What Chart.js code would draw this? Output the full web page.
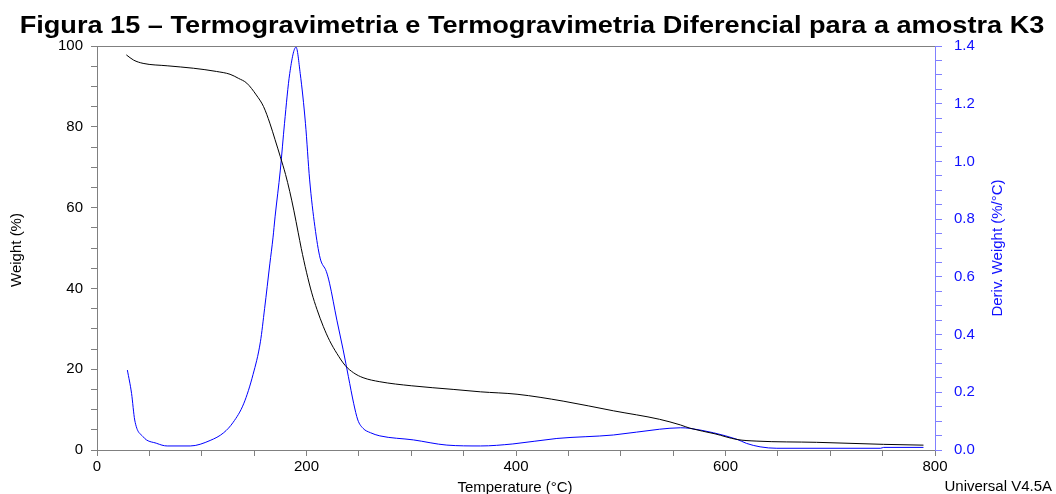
<!DOCTYPE html>
<html>
<head>
<meta charset="utf-8">
<script src="https://cdn.jsdelivr.net/npm/chart.js@4.4.0/dist/chart.umd.min.js"></script>
<style>
    body { margin: 0; background: white; }
</style>
</head>
<body>
<canvas id="grafico" width="1056" height="494"></canvas>
<script>
// curva TG (peso)
const tempPeso = [28, 35, 44, 67, 92, 114, 127, 135, 143, 152, 159, 165, 170, 175, 180, 184, 188, 192, 195, 200, 205, 210, 216, 222, 229, 237, 245, 254, 270, 300, 340, 366, 401, 445, 493, 537, 557, 566, 590, 611, 630, 687, 751, 789];
const peso = [97.8, 96.5, 95.7, 95.1, 94.5, 93.7, 93.0, 92.0, 90.8, 87.9, 85.0, 80.9, 76.8, 72.6, 68.2, 64.0, 59.2, 53.9, 49.9, 44.0, 38.9, 34.8, 30.6, 27.1, 23.9, 20.9, 19.1, 17.9, 16.9, 15.9, 15.0, 14.4, 13.8, 12.1, 9.7, 7.6, 6.2, 5.4, 4.0, 2.6, 2.2, 1.9, 1.4, 1.2];

// curva DTG (derivada)
const tempDeriv = [29, 33, 36, 44, 57, 67, 89, 108, 121, 130, 140, 149, 156, 160, 165, 168, 170, 175, 179, 184, 190, 194, 199, 203, 208, 213, 219, 222, 229, 235, 240, 245, 249, 254, 261, 270, 302, 334, 366, 397, 439, 493, 537, 557, 566, 611, 620, 633, 649, 748, 751, 789];
const deriv = [0.277, 0.196, 0.104, 0.046, 0.023, 0.014, 0.014, 0.033, 0.060, 0.096, 0.160, 0.262, 0.375, 0.49, 0.645, 0.735, 0.808, 0.970, 1.132, 1.305, 1.396, 1.305, 1.132, 0.936, 0.774, 0.665, 0.618, 0.578, 0.450, 0.347, 0.254, 0.162, 0.104, 0.075, 0.060, 0.049, 0.035, 0.017, 0.014, 0.021, 0.040, 0.052, 0.072, 0.077, 0.075, 0.037, 0.023, 0.011, 0.006, 0.006, 0.009, 0.009];

const ticksX = [0, 200, 400, 600, 800];
const ticksPeso = [0, 20, 40, 60, 80, 100];
const ticksDeriv = [0, 0.2, 0.4, 0.6, 0.8, 1.0, 1.2, 1.4];

const titulo = 'Figura 15 – Termogravimetria e Termogravimetria Diferencial para a amostra K3';
const fonte = '"Liberation Sans", Arial, sans-serif';

const plugin = {
    id: 'moldura_e_texto',
    beforeDraw: (chart) => {
        const ctx = chart.canvas.getContext('2d');
        ctx.save();
        ctx.globalCompositeOperation = 'destination-over';
        ctx.fillStyle = 'white';
        ctx.fillRect(0, 0, chart.width, chart.height);
        ctx.restore();
    },
    afterDraw: (chart) => {
        const ctx = chart.ctx;
        const a = chart.chartArea;
        ctx.save();
        // linha superior
        ctx.strokeStyle = '#808080';
        ctx.lineWidth = 1;
        ctx.beginPath();
        ctx.moveTo(a.left, a.top + 0.5);
        ctx.lineTo(a.right, a.top + 0.5);
        ctx.stroke();

        // titulo (esticado na horizontal como no original)
        ctx.save();
        ctx.font = 'bold 23px ' + fonte;
        ctx.fillStyle = 'black';
        ctx.textAlign = 'center';
        ctx.textBaseline = 'alphabetic';
        ctx.translate(532, 33);
        ctx.scale(1.18, 1);
        ctx.fillText(titulo, 0, 0);
        ctx.restore();

        ctx.font = '15px ' + fonte;
        ctx.textBaseline = 'middle';
        ctx.fillStyle = 'black';
        ctx.textAlign = 'center';
        ctx.fillText('Temperature (°C)', (a.left + a.right) / 2 - 1, 488);
        ctx.textAlign = 'right';
        ctx.fillText('Universal V4.5A', 1052, 487);

        // titulos dos eixos y
        ctx.textAlign = 'center';
        ctx.save();
        ctx.translate(17, 250);
        ctx.rotate(-Math.PI / 2);
        ctx.fillText('Weight (%)', 0, 0);
        ctx.restore();
        ctx.save();
        ctx.fillStyle = '#1010ff';
        ctx.translate(998, 248);
        ctx.rotate(-Math.PI / 2);
        ctx.fillText('Deriv. Weight (%/°C)', 0, 0);
        ctx.restore();
        ctx.restore();
    }
};

new Chart(document.getElementById('grafico'), {
    type: 'line',
    plugins: [plugin],
    data: {
        datasets: [{
            label: 'Weight',
            data: tempPeso.map((t, i) => ({ x: t, y: peso[i] })),
            borderColor: 'black',
            borderWidth: 1,
            pointRadius: 0,
            cubicInterpolationMode: 'monotone',
            yAxisID: 'y'
        }, {
            label: 'Deriv. Weight',
            data: tempDeriv.map((t, i) => ({ x: t, y: deriv[i] })),
            borderColor: '#0000ff',
            borderWidth: 1,
            pointRadius: 0,
            cubicInterpolationMode: 'monotone',
            yAxisID: 'y1'
        }]
    },
    options: {
        responsive: false,
        animation: false,
        layout: {
            padding: { left: 0, right: 0, top: 46, bottom: 0 }
        },
        scales: {
            x: {
                type: 'linear',
                min: 0,
                max: 800,
                afterFit: (s) => { s.height = 44; },
                afterBuildTicks: (s) => { s.ticks = Array.from({ length: 17 }, (v, i) => ({ value: i * 50 })); },
                grid: {
                    drawOnChartArea: false,
                    tickLength: 6,
                    tickColor: '#808080'
                },
                border: { color: '#808080' },
                ticks: {
                    autoSkip: false,
                    maxRotation: 0,
                    padding: 2,
                    color: 'black',
                    font: { size: 15, family: fonte },
                    callback: function (value) {
                        return ticksX.includes(value) ? value : '';
                    }
                }
            },
            y: {
                position: 'left',
                min: 0,
                max: 100,
                afterFit: (s) => { s.width = 97; },
                afterBuildTicks: (s) => { s.ticks = Array.from({ length: 21 }, (v, i) => ({ value: i * 5 })); },
                grid: {
                    drawOnChartArea: false,
                    tickLength: 6,
                    tickColor: '#808080'
                },
                border: { color: '#808080' },
                ticks: {
                    autoSkip: false,
                    padding: 8,
                    color: 'black',
                    font: { size: 15, family: fonte },
                    callback: function (value) {
                        return ticksPeso.includes(value) ? value : '';
                    }
                }
            },
            y1: {
                position: 'right',
                min: 0,
                max: 1.4,
                afterFit: (s) => { s.width = 121; },
                afterBuildTicks: (s) => { s.ticks = Array.from({ length: 29 }, (v, i) => ({ value: Math.round(i * 5) / 100 })); },
                grid: {
                    drawOnChartArea: false,
                    tickLength: 7,
                    tickColor: '#8080ff'
                },
                border: { color: '#8080ff' },
                ticks: {
                    autoSkip: false,
                    padding: 12,
                    color: '#1010ff',
                    font: { size: 15, family: fonte },
                    callback: function (value) {
                        const v = Math.round(value * 100) / 100;
                        return ticksDeriv.includes(v) ? v.toFixed(1) : '';
                    }
                }
            }
        },
        plugins: {
            legend: { display: false },
            tooltip: { enabled: false },
            title: { display: false }
        }
    }
});
</script>
</body>
</html>
